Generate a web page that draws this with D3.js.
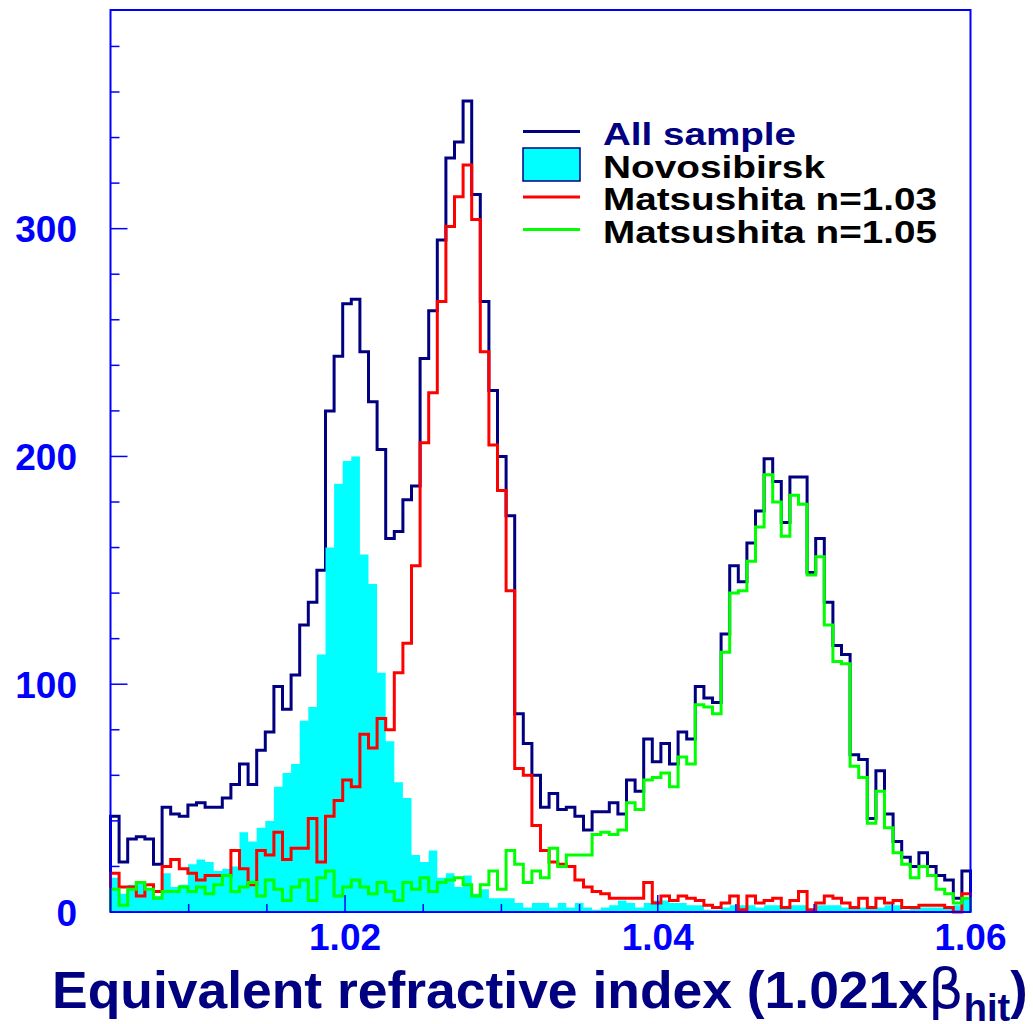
<!DOCTYPE html>
<html>
<head>
<meta charset="utf-8">
<script src="https://cdn.jsdelivr.net/npm/d3@7/dist/d3.min.js"></script>
<style>
  html, body { margin: 0; padding: 0; background: #fff; }
  svg { display: block; }
  text { font-family: "Liberation Sans", Arial, Helvetica, sans-serif; font-weight: bold; }
</style>
</head>
<body>
<svg id="chart" width="1033" height="1024"></svg>
<script>
// ---- data ----
const binStart = 1.005;
const binWidth = 0.00055;
const allSample = [42,22,32,33,32,21,46,43,42,47,48,46,46,50,56,65,56,71,79,99,
  89,104,126,136,150,220,244,267,269,246,224,203,164,167,181,187,243,264,295,331,
  338,356,315,268,229,200,174,87,74,60,46,52,45,46,42,36,44,44,48,43,
  58,53,76,66,74,65,79,76,99,94,92,122,152,145,162,176,199,189,171,191,
  191,149,164,136,117,113,69,67,41,62,43,31,24,20,26,20,16,14,6,18];
const novosibirsk = [15,8,12,13,10,7,17,11,12,21,23,22,18,19,20,35,31,37,40,55,
  61,65,84,90,113,160,188,198,200,157,144,105,75,57,50,25,22,27,15,17,
  11,16,8,10,6,6,6,4,2,4,4,2,4,2,4,2,1,2,3,5,
  4,2,4,5,5,4,4,3,3,1,1,2,3,3,3,2,3,3,2,3,
  3,0,3,3,3,2,2,2,2,2,3,3,1,2,2,2,2,2,3,6];
const matsu103 = [17,11,11,7,12,9,20,23,19,17,14,16,16,16,27,19,12,27,25,35,
  23,28,28,41,22,42,49,58,55,78,72,85,80,105,118,152,206,228,268,301,
  314,328,304,246,205,185,141,63,60,38,27,22,21,20,14,11,9,8,6,6,
  6,6,13,4,7,5,7,6,5,3,2,4,7,1,7,4,5,6,2,5,
  9,1,4,7,6,4,2,6,2,6,4,5,2,2,3,3,3,2,0,8];
const matsu105 = [10,3,10,13,10,6,9,9,11,9,11,8,12,16,9,11,13,7,14,10,
  5,11,14,5,15,18,7,11,14,11,8,13,9,5,13,10,15,9,13,14,
  15,12,7,12,18,10,27,21,13,18,15,28,20,25,25,25,34,35,34,36,
  48,45,58,59,61,55,68,65,91,90,87,114,140,141,154,169,192,180,165,183,
  179,148,156,126,110,109,64,59,39,53,37,26,21,15,20,16,10,8,4,6];
const xTickLabels = ["1.02", "1.04", "1.06"];
const xTickValues = [1.02, 1.04, 1.06];
const yTickLabels = ["0", "100", "200", "300"];
const yTickValues = [0, 100, 200, 300];
const legendLabels = ["All sample", "Novosibirsk", "Matsushita n=1.03", "Matsushita n=1.05"];

// ---- layout ----
const svg = d3.select("#chart");
const L = 110.5, R = 970.5, T = 10, B = 912;
const x = d3.scaleLinear().domain([binStart, binStart + binWidth * allSample.length]).range([L, R]);
const y = d3.scaleLinear().domain([0, 396]).range([B, T]);

const BLUE = "#0000ff", NAVY = "#000080";

function stepPoints(vals) {
  const pts = [[binStart, 0]];
  vals.forEach((v, i) => {
    pts.push([binStart + i * binWidth, v]);
    pts.push([binStart + (i + 1) * binWidth, v]);
  });
  pts.push([binStart + vals.length * binWidth, 0]);
  return pts;
}
const line = d3.line().x(d => x(d[0])).y(d => y(d[1]));
const area = d3.area().x(d => x(d[0])).y0(y(0)).y1(d => y(d[1]));

const plot = svg.append("g");
plot.append("path").attr("d", line(stepPoints(allSample)))
  .attr("fill", "none").attr("stroke", NAVY).attr("stroke-width", 3);
plot.append("path").attr("d", area(stepPoints(novosibirsk)))
  .attr("fill", "#00ffff").attr("stroke", "none");
plot.append("path").attr("d", line(stepPoints(matsu103)))
  .attr("fill", "none").attr("stroke", "#ff0000").attr("stroke-width", 3);
plot.append("path").attr("d", line(stepPoints(matsu105)))
  .attr("fill", "none").attr("stroke", "#00ff00").attr("stroke-width", 3);

// ---- axes ----
const yMinor = d3.range(0, 396, 20);
svg.append("g").selectAll("line").data(yMinor).join("line")
  .attr("x1", L).attr("x2", d => L + (d % 100 === 0 ? 17 : 9))
  .attr("y1", d => y(d)).attr("y2", d => y(d))
  .attr("stroke", BLUE).attr("stroke-width", 1.5);
svg.append("g").selectAll("text").data(yTickValues).join("text")
  .attr("x", 77).attr("y", d => y(d) + 13.5)
  .attr("text-anchor", "end").attr("fill", BLUE).attr("font-size", 37)
  .text((d, i) => yTickLabels[i]);

const xMinor = d3.range(1.01, 1.0601, 0.005);
svg.append("g").selectAll("line").data(xMinor).join("line")
  .attr("x1", d => x(d)).attr("x2", d => x(d))
  .attr("y1", B).attr("y2", d => B - (Math.abs(Math.round(d * 1000) % 20) === 0 ? 17 : 8))
  .attr("stroke", BLUE).attr("stroke-width", 1.5);
svg.append("g").selectAll("text").data(xTickValues).join("text")
  .attr("x", d => x(d)).attr("y", 950)
  .attr("text-anchor", "middle").attr("fill", BLUE).attr("font-size", 37)
  .text((d, i) => xTickLabels[i]);

// frame
svg.append("rect").attr("x", L).attr("y", T).attr("width", R - L).attr("height", B - T)
  .attr("fill", "none").attr("stroke", BLUE).attr("stroke-width", 2);

// ---- x title ----
const title = svg.append("text").attr("x", 52).attr("y", 1008)
  .attr("fill", NAVY).attr("font-size", 52);
title.append("tspan").attr("textLength", 876).attr("lengthAdjust", "spacingAndGlyphs")
  .text("Equivalent refractive index (1.021x");
title.append("tspan").attr("font-family", "'DejaVu Sans', sans-serif").attr("font-weight", "normal")
  .attr("font-size", 56).text("β");
title.append("tspan").attr("font-size", 38).attr("dy", 13).text("hit");
title.append("tspan").attr("dy", -13).text(")");

// ---- legend ----
const lg = svg.append("g");
const lx1 = 523, lx2 = 580, tx = 603;
lg.append("line").attr("x1", lx1).attr("x2", lx2).attr("y1", 131.5).attr("y2", 131.5)
  .attr("stroke", NAVY).attr("stroke-width", 3);
lg.append("rect").attr("x", lx1).attr("y", 148).attr("width", lx2 - lx1).attr("height", 33)
  .attr("fill", "#00ffff").attr("stroke", NAVY).attr("stroke-width", 1.5);
lg.append("line").attr("x1", lx1).attr("x2", lx2).attr("y1", 197).attr("y2", 197)
  .attr("stroke", "#ff0000").attr("stroke-width", 3);
lg.append("line").attr("x1", lx1).attr("x2", lx2).attr("y1", 229.5).attr("y2", 229.5)
  .attr("stroke", "#00ff00").attr("stroke-width", 3);
const lgY = [145, 178, 210, 243];
const lgW = [193, 222, 334, 334];
const lgC = [NAVY, "#000", "#000", "#000"];
legendLabels.forEach((t, i) => {
  lg.append("text").attr("x", tx).attr("y", lgY[i]).attr("fill", lgC[i])
    .attr("font-size", 32).attr("textLength", lgW[i]).attr("lengthAdjust", "spacingAndGlyphs")
    .text(t);
});
</script>
</body>
</html>
